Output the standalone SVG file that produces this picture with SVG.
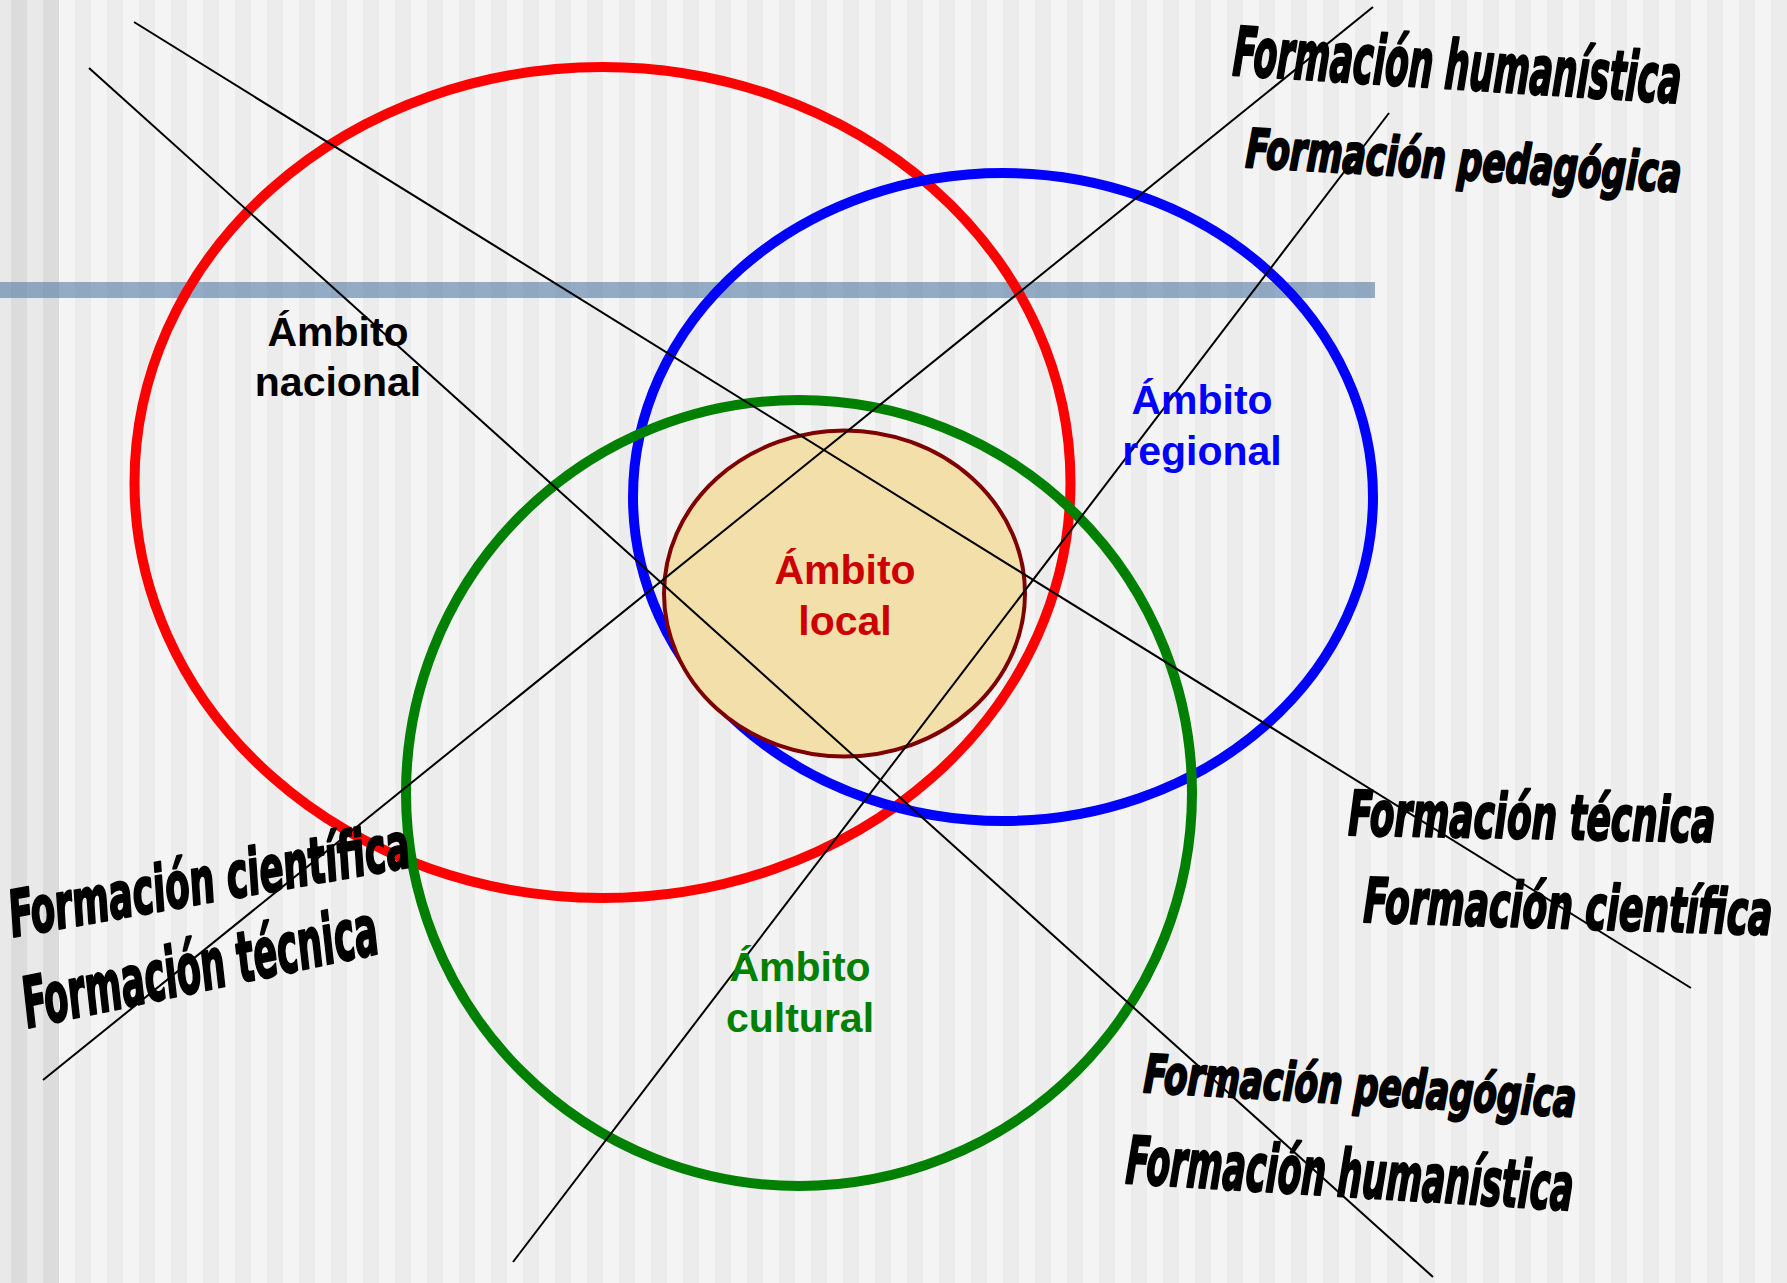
<svg xmlns="http://www.w3.org/2000/svg" width="1787" height="1283" viewBox="0 0 1787 1283">
<defs>
<pattern id="stripes" x="75" y="0" width="32" height="20" patternUnits="userSpaceOnUse">
<rect x="0" y="0" width="16" height="20" fill="#ececec"/>
</pattern>
<style>
.ring{fill:none;stroke-width:10}
.lbl{font-family:"Liberation Sans",Arial,sans-serif;font-weight:bold;font-size:41px;text-anchor:middle}
.conn{stroke:#000;stroke-width:2;fill:none}
.s{font-family:"DejaVu Sans Condensed","DejaVu Sans",sans-serif;font-weight:bold;font-style:italic;fill:#000;stroke:#000;stroke-width:2.2;stroke-linejoin:round}
</style>
</defs>
<g id="background">
<rect x="0" y="0" width="1787" height="1283" fill="#f4f4f4"/>
<rect x="0" y="0" width="1787" height="1283" fill="url(#stripes)"/>
<rect x="0" y="0" width="59" height="1283" fill="#e9e9e9"/>
<rect x="11" y="0" width="16" height="1283" fill="#dcdcdc"/>
<rect x="43" y="0" width="16" height="1283" fill="#dcdcdc"/>
<rect x="0" y="282" width="1375" height="16" fill="rgb(82,122,164)" opacity="0.6"/>
</g>
<g id="nacional">
<ellipse class="ring" cx="602.5" cy="482.5" rx="468" ry="415.5" stroke="#ff0000"/>
</g>
<g id="regional">
<ellipse class="ring" cx="1003" cy="497" rx="370" ry="324" stroke="#0000ff"/>
</g>
<g id="cultural">
<ellipse class="ring" cx="799" cy="793" rx="393" ry="393" stroke="#008000"/>
</g>
<g id="local">
<ellipse cx="844.5" cy="593.5" rx="180.5" ry="163" fill="#f3dfaa" stroke="#7f0000" stroke-width="4"/>
</g>
<g id="connectors">
<line class="conn" x1="134" y1="22" x2="1691" y2="988"/>
<line class="conn" x1="89" y1="68" x2="1433" y2="1277"/>
<line class="conn" x1="43" y1="1080" x2="1373" y2="7"/>
<line class="conn" x1="513" y1="1262" x2="1389" y2="113"/>
</g>
<g id="node-labels">
<text class="lbl" fill="#000"><tspan x="338" y="346">Ámbito</tspan><tspan x="338" y="396">nacional</tspan></text>
<text class="lbl" fill="#0000ff"><tspan x="1202" y="414">Ámbito</tspan><tspan x="1202" y="465">regional</tspan></text>
<text class="lbl" fill="#cc0000"><tspan x="845" y="584">Ámbito</tspan><tspan x="845" y="635">local</tspan></text>
<text class="lbl" fill="#008000"><tspan x="800" y="981">Ámbito</tspan><tspan x="800" y="1032">cultural</tspan></text>
</g>
<g id="formacion-labels">
<text class="s" transform="translate(1232,75) rotate(3.6) scale(0.582,1)" font-size="68" textLength="771" lengthAdjust="spacingAndGlyphs">Formación humanística</text>
<text class="s" transform="translate(1245,167) rotate(3.3) scale(0.722,1)" font-size="54" textLength="604" lengthAdjust="spacingAndGlyphs">Formación pedagógica</text>
<text class="s" transform="translate(13,937) rotate(-10) scale(0.641,1)" font-size="64" textLength="633" lengthAdjust="spacingAndGlyphs">Formación científica</text>
<text class="s" transform="translate(28,1028) rotate(-12) scale(0.578,1)" font-size="70" textLength="626" lengthAdjust="spacingAndGlyphs">Formación técnica</text>
<text class="s" transform="translate(1348,835) rotate(1.1) scale(0.665,1)" font-size="62" textLength="552" lengthAdjust="spacingAndGlyphs">Formación técnica</text>
<text class="s" transform="translate(1363,922) rotate(1.8) scale(0.667,1)" font-size="62" textLength="613" lengthAdjust="spacingAndGlyphs">Formación científica</text>
<text class="s" transform="translate(1143,1092) rotate(3.3) scale(0.730,1)" font-size="53" textLength="593" lengthAdjust="spacingAndGlyphs">Formación pedagógica</text>
<text class="s" transform="translate(1125,1183) rotate(3.5) scale(0.598,1)" font-size="66" textLength="749" lengthAdjust="spacingAndGlyphs">Formación humanística</text>
</g>
</svg>
